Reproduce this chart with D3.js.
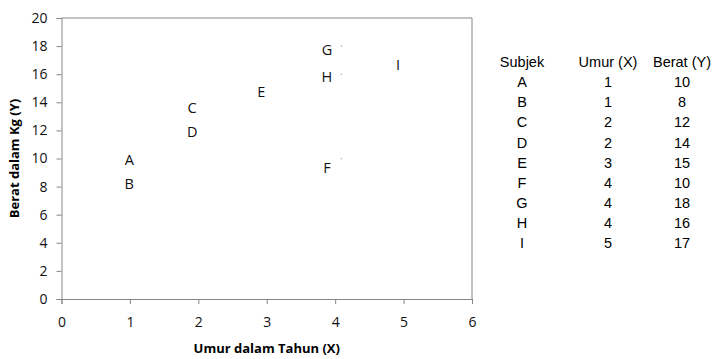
<!DOCTYPE html>
<html><head><meta charset="utf-8">
<script src="https://cdn.jsdelivr.net/npm/d3@7"></script>
<style>body{margin:0;background:#fff}svg{display:block}</style>
</head><body>
<script>
// Table data
const subjects = ["A","B","C","D","E","F","G","H","I"];
const umur = [1,1,2,2,3,4,4,4,5];
const berat = [10,8,12,14,15,10,18,16,17];
// Label positions (data units)
const labelX = [0.99,0.99,1.91,1.91,2.92,3.88,3.88,3.88,4.92];
const labelY = [9.9,8.2,13.6,11.9,14.75,9.35,17.75,15.85,16.65];
// faint markers visible in the chart
const markerX = [4.09,4.09,4.09];
const markerY = [18,16,10];
const xTicks = [0,1,2,3,4,5,6];
const yTicks = [0,2,4,6,8,10,12,14,16,18,20];
const xTitle = "Umur dalam Tahun (X)";
const yTitle = "Berat dalam Kg (Y)";
const tableHeader = ["Subjek","Umur (X)","Berat (Y)"];

const W=719,H=359;
const svg=d3.select("body").append("svg").attr("width",W).attr("height",H);
const L=61.5,R=472,T=18,B=299;
const x=d3.scaleLinear().domain([0,6]).range([L,R]);
const y=d3.scaleLinear().domain([0,20]).range([B,T]);
const axisColor="#868686";
const font="'Open Sans', sans-serif";

// plot border (top/right)
svg.append("path").attr("d",`M${L},${T}H${R}V${B}`).attr("fill","none").attr("stroke",axisColor).attr("stroke-width",1);

const gx=svg.append("g").attr("transform",`translate(0,${B})`)
 .call(d3.axisBottom(x).tickValues(xTicks).tickSize(5).tickPadding(13).tickFormat(d3.format("d")));
const gy=svg.append("g").attr("transform",`translate(${L},0)`)
 .call(d3.axisLeft(y).tickValues(yTicks).tickSize(5).tickPadding(9).tickFormat(d3.format("d")));
[gx,gy].forEach(g=>{
  g.select(".domain").attr("stroke",axisColor);
  g.selectAll(".tick line").attr("stroke",axisColor);
  g.selectAll("text").attr("font-family",font).attr("font-size",14).attr("fill","#111");
});

// axis titles
svg.append("text").attr("x",(L+R)/2).attr("y",353).attr("text-anchor","middle")
 .attr("font-family",font).attr("font-weight","bold").attr("font-size",13).text(xTitle);
svg.append("text").attr("transform",`translate(19,${(T+B)/2}) rotate(-90)`).attr("text-anchor","middle")
 .attr("font-family",font).attr("font-weight","bold").attr("font-size",13).text(yTitle);

// faint markers
svg.selectAll("circle.m").data(markerX).join("circle").attr("class","m")
 .attr("cx",(d)=>x(d)).attr("cy",(d,i)=>y(markerY[i])).attr("r",0.8).attr("fill","#9fb3dc");

// point labels
svg.selectAll("text.lbl").data(subjects).join("text").attr("class","lbl")
 .attr("x",(d,i)=>x(labelX[i])).attr("y",(d,i)=>y(labelY[i])).attr("dy","0.36em")
 .attr("text-anchor","middle").attr("font-family",font).attr("font-size",14.5).attr("fill","#111").text(d=>d);

// table
const colX=[522,608,682];
const tf="'Liberation Sans', Arial, sans-serif";
const hdrY=62, row0=82, rowH=20.1;
svg.selectAll("text.hdr").data(tableHeader).join("text").attr("class","hdr")
 .attr("x",(d,i)=>colX[i]).attr("y",hdrY).attr("dy","0.36em").attr("text-anchor","middle")
 .attr("font-family",tf).attr("font-size",14.5).text(d=>d);
const rows=svg.selectAll("g.row").data(subjects).join("g").attr("class","row")
 .attr("transform",(d,i)=>`translate(0,${row0+i*rowH})`);
rows.each(function(d,i){
  const g=d3.select(this);
  [d,umur[i],berat[i]].forEach((v,j)=>{
    g.append("text").attr("x",colX[j]).attr("dy","0.36em").attr("text-anchor","middle")
     .attr("font-family",tf).attr("font-size",14.5).text(v);
  });
});
</script>
</body></html>
